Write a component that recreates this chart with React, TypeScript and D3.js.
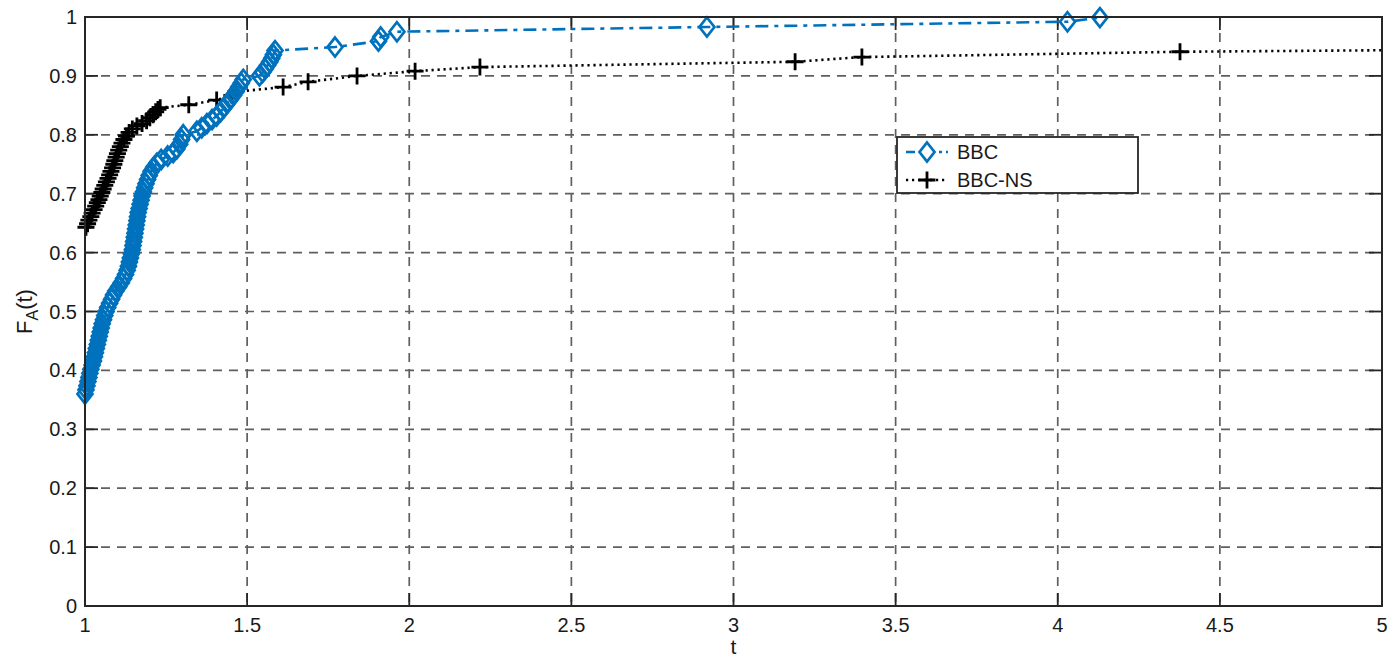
import React from "react";
import * as d3 from "d3";

const bbcT = [1.000,1.003,1.006,1.009,1.012,1.015,1.018,1.022,1.026,1.029,1.032,1.035,1.038,1.041,1.044,1.047,1.050,1.053,1.057,1.061,1.065,1.070,1.076,1.082,1.088,1.095,1.104,1.112,1.119,1.125,1.130,1.134,1.137,1.140,1.143,1.146,1.148,1.150,1.152,1.154,1.156,1.158,1.160,1.162,1.164,1.167,1.170,1.173,1.176,1.180,1.184,1.188,1.193,1.198,1.204,1.212,1.222,1.235,1.255,1.272,1.283,1.292,1.298,1.303,1.345,1.360,1.376,1.392,1.406,1.418,1.428,1.438,1.448,1.458,1.466,1.474,1.482,1.488,1.538,1.548,1.556,1.563,1.570,1.576,1.581,1.586,1.771,1.905,1.912,1.962,2.918,4.030,4.130];
const bbcF = [0.360,0.367,0.374,0.381,0.388,0.395,0.402,0.409,0.416,0.423,0.430,0.437,0.444,0.451,0.458,0.465,0.472,0.479,0.486,0.493,0.500,0.507,0.514,0.521,0.528,0.535,0.542,0.549,0.556,0.563,0.570,0.577,0.584,0.591,0.598,0.605,0.612,0.619,0.626,0.633,0.640,0.647,0.654,0.661,0.668,0.675,0.682,0.689,0.696,0.703,0.710,0.717,0.724,0.731,0.738,0.745,0.752,0.758,0.764,0.770,0.776,0.784,0.792,0.800,0.806,0.812,0.819,0.826,0.832,0.839,0.846,0.853,0.860,0.867,0.874,0.881,0.888,0.894,0.900,0.906,0.912,0.918,0.924,0.930,0.936,0.943,0.949,0.959,0.966,0.975,0.983,0.992,0.999];

const nsT = [1.003,1.008,1.012,1.018,1.022,1.028,1.033,1.038,1.043,1.047,1.052,1.056,1.061,1.066,1.071,1.076,1.080,1.085,1.089,1.092,1.096,1.100,1.104,1.109,1.114,1.120,1.128,1.136,1.146,1.160,1.176,1.190,1.200,1.210,1.218,1.225,1.232,1.320,1.406,1.453,1.465,1.611,1.688,1.839,2.018,2.218,3.190,3.396,4.377,5.600];
const nsF = [0.643,0.649,0.655,0.661,0.667,0.673,0.679,0.685,0.690,0.696,0.702,0.708,0.714,0.720,0.726,0.732,0.738,0.744,0.750,0.756,0.762,0.768,0.774,0.780,0.786,0.792,0.798,0.804,0.810,0.815,0.819,0.824,0.829,0.834,0.839,0.843,0.846,0.851,0.859,0.867,0.873,0.881,0.890,0.900,0.908,0.915,0.924,0.932,0.941,0.946];

const xTicks = [1, 1.5, 2, 2.5, 3, 3.5, 4, 4.5, 5];
const yTicks = [0, 0.1, 0.2, 0.3, 0.4, 0.5, 0.6, 0.7, 0.8, 0.9, 1];
const seriesNames = ["BBC", "BBC-NS"];

const BLUE = "#0072BD";
const FONT = "'Liberation Sans', Arial, Helvetica, sans-serif";

export default function App() {
  const W = 1400, H = 658;
  const L = 85, R = 1382, T = 17, B = 606;
  const x = d3.scaleLinear().domain([1, 5]).range([L, R]);
  const y = d3.scaleLinear().domain([0, 1]).range([B, T]);
  const line = d3.line<[number, number]>().x(d => x(d[0])).y(d => y(d[1]));
  const bbc: [number, number][] = bbcT.map((t, i) => [t, bbcF[i]]);
  const ns: [number, number][] = nsT.map((t, i) => [t, nsF[i]]);
  const tick = 13;
  const diamond = (cx: number, cy: number) => `M${cx},${cy - 9.5}L${cx + 7.5},${cy}L${cx},${cy + 9.5}L${cx - 7.5},${cy}Z`;
  const plus = (cx: number, cy: number) => `M${cx - 8.5},${cy}H${cx + 8.5}M${cx},${cy - 8.5}V${cy + 8.5}`;
  const gridColor = "#5f5f5f";
  const axisColor = "#262626";
  const lgX = 897, lgY = 137, lgW = 241, lgH = 56;
  return (
    <svg width={W} height={H} style={{ position: "absolute", left: 0, top: 0, background: "#fff" }} fontFamily={FONT}>
      <defs>
        <clipPath id="plotclip"><rect x={L} y={T - 1} width={R - L} height={B - T + 2} /></clipPath>
      </defs>
      <rect x={0} y={0} width={W} height={H} fill="#fff" />
      {xTicks.slice(1, -1).map(t => (
        <line key={"gx" + t} x1={x(t)} x2={x(t)} y1={T} y2={B} stroke={gridColor} strokeWidth={1.7} strokeDasharray="9,7" />
      ))}
      {yTicks.slice(1, -1).map(t => (
        <line key={"gy" + t} x1={L} x2={R} y1={y(t)} y2={y(t)} stroke={gridColor} strokeWidth={1.7} strokeDasharray="9,7" />
      ))}
      {xTicks.map(t => (
        <g key={"tx" + t}>
          <line x1={x(t)} x2={x(t)} y1={B} y2={B - tick} stroke={axisColor} strokeWidth={1.8} />
          <line x1={x(t)} x2={x(t)} y1={T} y2={T + tick} stroke={axisColor} strokeWidth={1.8} />
          <text x={x(t)} y={B + 26} textAnchor="middle" fontSize={20} fill="#1a1a1a">{String(t)}</text>
        </g>
      ))}
      {yTicks.map(t => (
        <g key={"ty" + t}>
          <line x1={L} x2={L + tick} y1={y(t)} y2={y(t)} stroke={axisColor} strokeWidth={1.8} />
          <line x1={R} x2={R - tick} y1={y(t)} y2={y(t)} stroke={axisColor} strokeWidth={1.8} />
          <text x={L - 8} y={y(t) + 7} textAnchor="end" fontSize={20} fill="#1a1a1a">{String(t)}</text>
        </g>
      ))}
      <g clipPath="url(#plotclip)">
        <path d={line(ns) || ""} fill="none" stroke="#000" strokeWidth={2.6} strokeDasharray="2.2,3.8" />
        <path d={line(bbc) || ""} fill="none" stroke={BLUE} strokeWidth={2.6} strokeDasharray="13,6,4,6" />
      </g>
      {ns.filter(d => d[0] <= 5).map((d, i) => (
        <path key={"np" + i} d={plus(x(d[0]), y(d[1]))} stroke="#000" strokeWidth={2.8} fill="none" />
      ))}
      {bbc.map((d, i) => (
        <path key={"bd" + i} d={diamond(x(d[0]), y(d[1]))} stroke={BLUE} strokeWidth={2.7} fill="none" />
      ))}
      <rect x={L} y={T} width={R - L} height={B - T} fill="none" stroke={axisColor} strokeWidth={2} />
      <text x={(L + R) / 2} y={654} textAnchor="middle" fontSize={21} fill="#1a1a1a">t</text>
      <text transform={`translate(32,${(T + B) / 2}) rotate(-90)`} textAnchor="middle" fontSize={22} fill="#1a1a1a">
        F<tspan fontSize={16} dy={6}>A</tspan><tspan dy={-6}>(t)</tspan>
      </text>
      <rect x={lgX} y={lgY} width={lgW} height={lgH} fill="#fff" stroke={axisColor} strokeWidth={1.8} />
      <line x1={lgX + 9} x2={lgX + 51} y1={lgY + 15} y2={lgY + 15} stroke={BLUE} strokeWidth={2.6} strokeDasharray="9,4,3,4" />
      <path d={diamond(lgX + 30, lgY + 15)} stroke={BLUE} strokeWidth={2.7} fill="#fff" />
      <text x={lgX + 60} y={lgY + 22} fontSize={20} fill="#1a1a1a">{seriesNames[0]}</text>
      <line x1={lgX + 9} x2={lgX + 51} y1={lgY + 43} y2={lgY + 43} stroke="#000" strokeWidth={2.6} strokeDasharray="2.2,3.8" />
      <path d={plus(lgX + 30, lgY + 43)} stroke="#000" strokeWidth={2.8} fill="none" />
      <text x={lgX + 60} y={lgY + 50} fontSize={20} fill="#1a1a1a">{seriesNames[1]}</text>
    </svg>
  );
}
